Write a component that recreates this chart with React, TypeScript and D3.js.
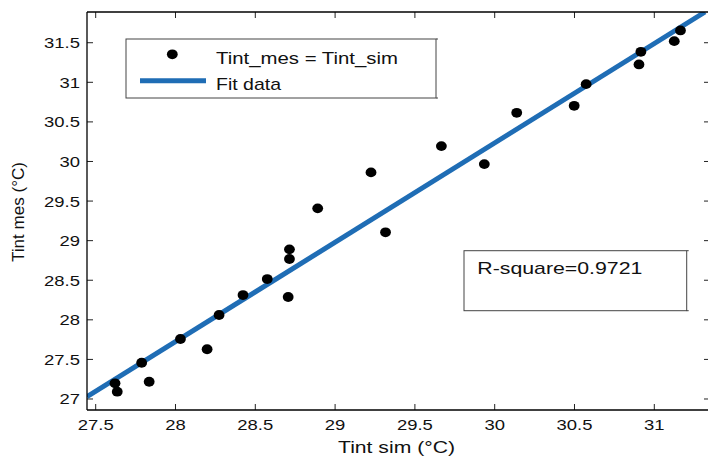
import React from "react";
import * as d3 from "d3";

// measured values (Tint_sim, Tint_mes)
const simValues = [
  27.621, 27.635, 27.788, 27.835, 28.031, 28.198, 28.273, 28.423, 28.575, 28.714, 28.714, 28.706,
  28.891, 29.225, 29.316, 29.666, 29.935, 30.138, 30.498, 30.573, 30.904, 30.916, 31.125, 31.164,
];
const mesValues = [
  27.198, 27.092, 27.458, 27.218, 27.758, 27.628, 28.061, 28.313, 28.515, 28.89, 28.768, 28.288,
  29.408, 29.862, 29.105, 30.194, 29.967, 30.615, 30.703, 30.977, 31.226, 31.385, 31.52, 31.655,
];

// fit line end points
const fitX = [27.4455, 31.318];
const fitY = [27.029, 31.888];

const xTicks = [27.5, 28, 28.5, 29, 29.5, 30, 30.5, 31];
const yTicks = [27, 27.5, 28, 28.5, 29, 29.5, 30, 30.5, 31, 31.5];

const W = 708;
const H = 459;
const FONT = "'Liberation Sans', Arial, sans-serif";
const BLUE = "#1f6db5";

const App = () => {
  const left = 87;
  const right = 710;
  const top = 12;
  const bottom = 410;

  const x = d3.scaleLinear().domain([27.4455, 31.349]).range([left, right]);
  const y = d3.scaleLinear().domain([26.861, 31.888]).range([bottom, top]);

  const line = d3
    .line<number>()
    .x((d) => x(d))
    .y((_, i) => y(fitY[i]));

  const tickLen = 6;
  const sx = 1.23;

  return (
    <svg
      width={W}
      height={H}
      style={{ position: "absolute", left: 0, top: 0, background: "#fff" }}
      fontFamily={FONT}
    >
      <defs>
        <clipPath id="plot">
          <rect x={left} y={top} width={right - left} height={bottom - top} />
        </clipPath>
      </defs>

      {/* ticks, inward on all four sides */}
      {xTicks.map((t) => (
        <g key={"x" + t} stroke="#222" strokeWidth={1}>
          <line x1={x(t)} x2={x(t)} y1={bottom} y2={bottom - tickLen} />
          <line x1={x(t)} x2={x(t)} y1={top} y2={top + tickLen} />
        </g>
      ))}
      {yTicks.map((t) => (
        <g key={"y" + t} stroke="#222" strokeWidth={1}>
          <line x1={left} x2={left + tickLen} y1={y(t)} y2={y(t)} />
          <line x1={right} x2={right - tickLen} y1={y(t)} y2={y(t)} />
        </g>
      ))}

      {/* tick labels */}
      {xTicks.map((t) => (
        <text
          key={"xl" + t}
          transform={`translate(${x(t)},430) scale(${sx},1)`}
          textAnchor="middle"
          fontSize={15}
          fill="#111"
        >
          {String(t)}
        </text>
      ))}
      {yTicks.map((t) => (
        <text
          key={"yl" + t}
          transform={`translate(${left - 7},${y(t) + 5.5}) scale(${sx},1)`}
          textAnchor="end"
          fontSize={15}
          fill="#111"
        >
          {String(t)}
        </text>
      ))}

      {/* axis labels */}
      <text
        x={338}
        y={453}
        fontSize={17}
        textLength={117}
        lengthAdjust="spacingAndGlyphs"
        fill="#111"
      >
        Tint sim (°C)
      </text>
      <text
        transform={`translate(23.5,262) rotate(-90)`}
        fontSize={17}
        textLength={100}
        lengthAdjust="spacingAndGlyphs"
        fill="#111"
      >
        Tint mes (°C)
      </text>

      {/* data */}
      <g clipPath="url(#plot)">
        <path d={line(fitX) || ""} fill="none" stroke={BLUE} strokeWidth={5} />
        {simValues.map((v, i) => (
          <ellipse key={i} cx={x(v)} cy={y(mesValues[i])} rx={5.4} ry={4.9} fill="#000" />
        ))}
      </g>

      {/* axes box */}
      <line x1={left} x2={W} y1={top} y2={top} stroke="#000" strokeWidth={1.3} />
      <line x1={left} x2={W} y1={bottom} y2={bottom} stroke="#000" strokeWidth={1.6} />
      <line x1={left} x2={left} y1={top} y2={bottom} stroke="#000" strokeWidth={1.3} />

      {/* legend */}
      <rect x={126} y={39} width={310} height={59} fill="#fff" stroke="#444" strokeWidth={1} />
      <line x1={436} x2={438} y1={39} y2={39} stroke="#444" />
      <line x1={436} x2={438} y1={98} y2={98} stroke="#444" />
      <ellipse cx={172.3} cy={54.3} rx={5.4} ry={4.9} fill="#000" />
      <text x={216} y={63.5} fontSize={17} textLength={182} lengthAdjust="spacingAndGlyphs" fill="#111">
        Tint_mes = Tint_sim
      </text>
      <line x1={140} x2={206} y1={80.7} y2={80.7} stroke={BLUE} strokeWidth={5} />
      <text x={216} y={89.5} fontSize={17} textLength={65} lengthAdjust="spacingAndGlyphs" fill="#111">
        Fit data
      </text>

      {/* R-square box */}
      <rect x={464} y={250.7} width={222.7} height={60} fill="none" stroke="#444" strokeWidth={1} />
      <line x1={686.7} x2={688.7} y1={250.7} y2={250.7} stroke="#444" />
      <line x1={686.7} x2={688.7} y1={310.7} y2={310.7} stroke="#444" />
      <text x={477.3} y={273.8} fontSize={17} textLength={165} lengthAdjust="spacingAndGlyphs" fill="#111">
        R-square=0.9721
      </text>
    </svg>
  );
};

export default App;
